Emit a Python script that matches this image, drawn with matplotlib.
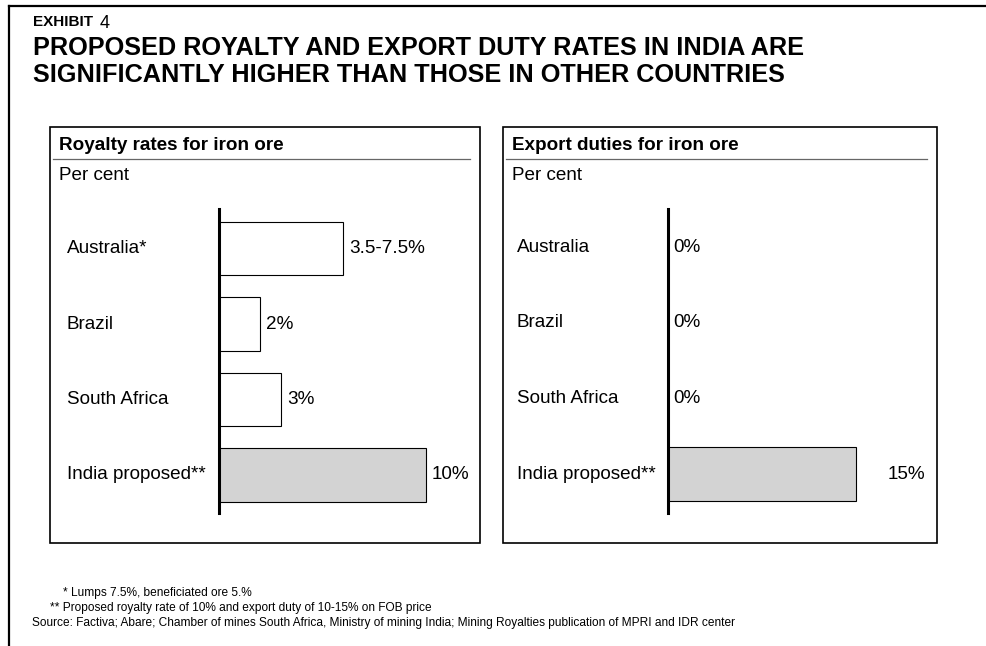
import matplotlib
matplotlib.use("Agg")
import matplotlib.pyplot as plt
from matplotlib.patches import Rectangle
from matplotlib.lines import Line2D
from matplotlib.transforms import IdentityTransform, blended_transform_factory
from matplotlib import font_manager

# ---- data ----
countries = ["Australia*", "Brazil", "South Africa", "India proposed**"]
export_countries = ["Australia", "Brazil", "South Africa", "India proposed**"]
royalty_values = [6.0, 2.0, 3.0, 10.0]
royalty_labels = ["3.5-7.5%", "2%", "3%", "10%"]
export_values = [0.0, 0.0, 0.0, 15.0]
export_labels = ["0%", "0%", "0%", "15%"]
bar_fills = ["white", "white", "white", "#d3d3d3"]

exhibit_no = "4"
title_lines = ["PROPOSED ROYALTY AND EXPORT DUTY RATES IN INDIA ARE",
               "SIGNIFICANTLY HIGHER THAN THOSE IN OTHER COUNTRIES"]
footnotes = ["* Lumps 7.5%, beneficiated ore 5.%",
             "** Proposed royalty rate of 10% and export duty of 10-15% on FOB price",
             "Source: Factiva; Abare; Chamber of mines South Africa, Ministry of mining India; "
             "Mining Royalties publication of MPRI and IDR center"]

W, H = 987, 646
FONT = "Liberation Sans"
names = {f.name for f in font_manager.fontManager.ttflist}
NARROW = "Liberation Sans Narrow" if "Liberation Sans Narrow" in names else FONT
BODY = 13.6

fig = plt.figure(figsize=(W / 100, H / 100), dpi=100)
fig.patch.set_facecolor("white")
px = IdentityTransform()


def Y(y):
    return H - y


def text(x, y, s, **kw):
    kw.setdefault("family", FONT)
    kw.setdefault("va", "center")
    fig.text(x, Y(y), s, transform=px, **kw)


def line(x0, y0, x1, y1, **kw):
    fig.add_artist(Line2D([x0, x1], [Y(y0), Y(y1)], transform=px, **kw))


# outer frame (top and left)
line(8.5, 6, W, 6, color="black", lw=1.6)
line(8.5, 6, 8.5, H, color="black", lw=1.6)

# headline
text(33, 22, "EXHIBIT", fontsize=11, fontweight="bold")
text(100, 23, exhibit_no, fontsize=13)
text(33, 48, title_lines[0], fontsize=18.2, fontweight="bold")
text(33, 75, title_lines[1], fontsize=18.2, fontweight="bold")


def panel(x0, x1, title, cats, vals, labels, axis_x, scale, centers, label_x,
          label_offsets):
    # panel box and heading
    fig.add_artist(Rectangle((x0, Y(543)), x1 - x0, 543 - 127, transform=px,
                             fill=False, ec="black", lw=1.2))
    text(x0 + 9, 145, title, fontsize=BODY, fontweight="bold")
    line(x0 + 3, 159, x1 - 10, 159, color="#666666", lw=0.9)
    text(x0 + 9, 176, "Per cent", fontsize=BODY)

    # bar axes: left spine is the zero line
    top, bot = 209, 513
    right = x1 - 5
    ax = fig.add_axes([axis_x / W, (H - bot) / H, (right - axis_x) / W,
                       (bot - top) / H])
    ax.set_xlim(0, (right - axis_x) / scale)
    step = centers[1] - centers[0]
    ax.set_ylim(len(cats) - 1 + (bot - centers[-1]) / step,
                -(centers[0] - top) / step)
    ax.barh(range(len(cats)), vals, height=0.71, color=bar_fills,
            edgecolor="black", linewidth=0.8, zorder=2)
    for s in ["top", "right", "bottom"]:
        ax.spines[s].set_visible(False)
    ax.spines["left"].set_linewidth(2.2)
    ax.spines["left"].set_zorder(3)
    ax.set_xticks([])
    ax.set_yticks([])
    ax.patch.set_alpha(0)

    tr = blended_transform_factory(px, ax.transData)
    for i, (c, v, lab) in enumerate(zip(cats, vals, labels)):
        ax.text(label_x, i, c, transform=tr, fontsize=BODY, family=FONT,
                va="center", ha="left")
        ax.annotate(lab, xy=(v, i), xytext=(label_offsets[i], 0),
                    textcoords="offset pixels", fontsize=BODY, family=FONT,
                    va="center", ha="left")
    return ax


panel(50, 480, "Royalty rates for iron ore", countries, royalty_values,
      royalty_labels, 219, 20.7, [248.5, 323.5, 398.5, 475], 67,
      [6, 6, 6, 6])
panel(503, 937, "Export duties for iron ore", export_countries, export_values,
      export_labels, 668, 12.53, [247.5, 323.5, 399, 474], 517,
      [5, 5, 5, 32])

# footnotes
text(63, 593, footnotes[0], fontsize=8.6, family=NARROW)
text(50, 608, footnotes[1], fontsize=8.6, family=NARROW)
text(32, 623, footnotes[2], fontsize=8.6, family=NARROW)

fig.savefig("out.png", dpi=100, facecolor="white")
